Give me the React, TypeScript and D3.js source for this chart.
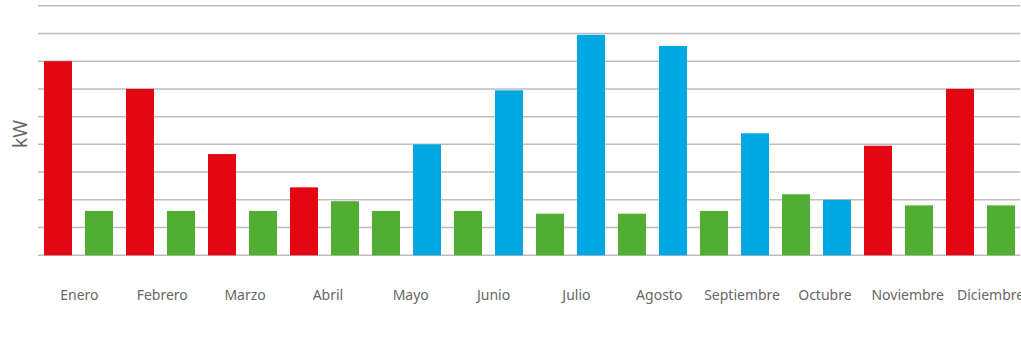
import React from "react";
import * as d3 from "d3";

const months = ["Enero","Febrero","Marzo","Abril","Mayo","Junio","Julio","Agosto","Septiembre","Octubre","Noviembre","Diciembre"];
// heating (red), null when absent
const heating: (number | null)[] = [7.0, 6.0, 3.65, 2.45, null, null, null, null, null, null, 3.95, 6.0];
// cooling (blue), null when absent
const cooling: (number | null)[] = [null, null, null, null, 4.0, 5.95, 7.95, 7.55, 4.4, 2.0, null, null];
// other (green)
const other: number[] = [1.6, 1.6, 1.6, 1.95, 1.6, 1.6, 1.5, 1.5, 1.6, 2.2, 1.8, 1.8];
const gridTicks = [0, 1, 2, 3, 4, 5, 6, 7, 8, 9];
const yLabel = "kW";

const colors = { heating: "#e30613", other: "#52ae32", cooling: "#00a8e1" };

type Bar = { key: string; month: number; value: number; kind: "heating" | "other" | "cooling" };

export default function App() {
  const W = 1021, H = 344;
  const bars: Bar[] = [];
  months.forEach((m, i) => {
    if (heating[i] != null) bars.push({ key: `h${i}`, month: i, value: heating[i] as number, kind: "heating" });
    bars.push({ key: `o${i}`, month: i, value: other[i], kind: "other" });
    if (cooling[i] != null) bars.push({ key: `c${i}`, month: i, value: cooling[i] as number, kind: "cooling" });
  });

  const x = d3.scaleBand<string>()
    .domain(bars.map(b => b.key))
    .range([37.5, 1021.5])
    .paddingInner(13 / 41)
    .paddingOuter(6.5 / 41);
  const y = d3.scaleLinear().domain([0, 9]).range([255.3, 5.7]);
  const xl = d3.scaleBand<string>().domain(months).range([38, 1032]);

  return (
    <svg width={W} height={H} style={{ position: "absolute", left: 0, top: 0, display: "block" }}>
      <rect width={W} height={H} fill="#fff" />
      {gridTicks.map(t => (
        <line key={t} x1={38} x2={1020} y1={y(t)} y2={y(t)} stroke="#bdbdbd" strokeWidth={1.5} />
      ))}
      {bars.map(b => (
        <rect key={b.key} x={x(b.key)} width={x.bandwidth()} y={y(b.value)} height={y(0) - y(b.value)} fill={colors[b.kind]} />
      ))}
      {months.map(m => (
        <text key={m} x={(xl(m) as number) + xl.bandwidth() / 2} y={300} textAnchor="middle"
          fontFamily="'Noto Sans', 'Open Sans', sans-serif" fontSize={14} fill="#666">{m}</text>
      ))}
      <text transform="translate(27,134) rotate(-90)" textAnchor="middle"
        fontFamily="'Noto Sans', 'Open Sans', sans-serif" fontSize={19} fill="#666">{yLabel}</text>
    </svg>
  );
}
